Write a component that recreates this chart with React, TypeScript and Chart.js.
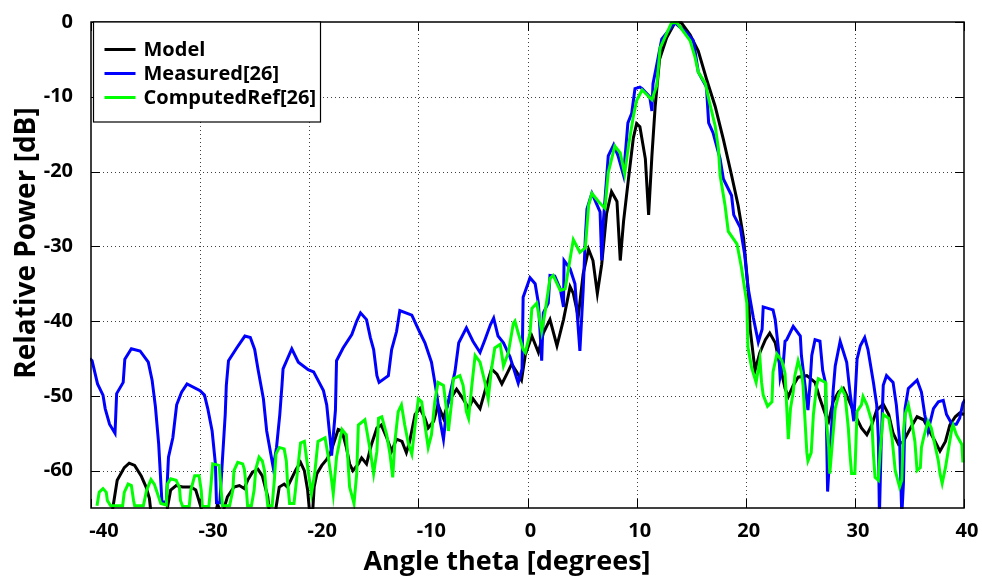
import React, { useEffect, useRef } from "react";
import { Chart, registerables } from "chart.js";

Chart.register(...registerables);

const xTicks = [-40, -30, -20, -10, 0, 10, 20, 30, 40];
const yTicks = [-60, -50, -40, -30, -20, -10, 0];

const seriesNames = ["Model", "Measured[26]", "ComputedRef[26]"];
const seriesColors = ["#000000", "#0000FF", "#00FF00"];

const modelTheta = [
  -38.1, -38.0, -37.6, -36.95, -36.5, -36.0, -35.4, -34.95, -34.65, -34.4,
  -33.1, -33.0, -32.7, -32.2, -31.6, -30.85, -30.4, -29.9, -29.8,
  -28.8, -28.4, -28.0, -27.5, -26.9, -26.4, -25.95, -25.65, -25.2, -24.7, -24.3, -23.8, -23.7, -23.6,
  -23.1, -23.05, -22.75, -22.3, -22.0, -21.7, -21.2, -20.8, -20.45, -20.15, -20.0, -19.95,
  -19.75, -19.55, -19.3, -18.85, -18.4, -18.1, -17.8, -17.35, -17.0, -16.6, -16.3, -16.0,
  -15.5, -15.2, -14.75, -14.3, -13.8, -13.4, -12.9, -12.45, -12.0, -11.5, -11.1, -10.8,
  -10.3, -9.85, -9.4, -9.1, -8.6, -8.2, -7.7, -7.25, -6.5, -5.9, -5.4, -5.0, -4.35,
  -3.75, -3.3, -2.8, -2.35, -1.9, -1.45, -1.0, -0.55, -0.2, 0.4, 1.0, 1.45, 2.06,
  2.7, 3.3, 3.9, 4.2, 4.65, 5.1, 5.6, 6.0, 6.4, 6.8, 7.25, 7.7, 8.2, 8.5, 8.8, 9.25,
  9.7, 10.0, 10.3, 10.8, 11.1, 11.4, 11.7, 12.1, 12.75, 13.5, 14.1, 14.9, 15.65, 16.4,
  17.2, 17.95, 18.7, 19.3, 19.8, 20.2, 20.4, 20.85, 21.3, 21.8, 22.2, 22.7, 23.15,
  23.6, 23.9, 24.35, 24.8, 25.6, 26.35, 26.8, 27.3, 27.6, 28.0, 28.5, 28.95, 29.4,
  30.0, 30.6, 31.1, 31.55, 32.0, 32.6, 33.1, 33.5, 34.0, 34.45, 35.1, 35.7, 36.3,
  36.7, 37.35, 37.8, 38.3, 38.7, 39.2, 39.6, 40.0,
];
const modelDb = [
  -67, -65, -61.3, -59.6, -59.0, -59.3, -60.7, -62.2, -63.7, -67,
  -67, -65, -62.6, -62.0, -62.2, -62.2, -62.6, -65, -67,
  -67, -64.5, -66, -63.5, -62.2, -62.0, -62.4, -61.3, -60.2, -59.8, -60.7, -63.5, -65, -67,
  -67, -65, -62.2, -61.8, -62.2, -61.3, -59.8, -58.9, -60.0, -62.6, -65, -67,
  -67, -62.2, -60.4, -59.3, -58.5, -57.8, -56.5, -54.5, -54.7, -56.9, -59.1, -60.0,
  -59.1, -58.3, -59.1, -56.5, -54.3, -53.9, -55.6, -57.4, -55.8, -56.1, -57.6, -56.1,
  -52.5, -51.7, -53.0, -54.3, -53.4, -51.2, -53.0, -50.8, -49.1, -50.4, -51.7, -50.4, -51.7,
  -48.6, -46.4, -47.1, -48.4, -47.1, -45.75, -46.8, -47.9, -44.5, -42.0, -44.2, -41.6, -39.8,
  -43.3, -39.8, -35.4, -36.3, -39.4, -33.7, -30.4, -31.9, -36.3, -32.4, -25.6, -22.7, -24.0, -31.9, -26.7, -21.0,
  -15.5, -13.6, -14.0, -18.3, -25.8, -17.9, -11.3, -5.0, -2.1, -0.1, -0.1, -1.7, -3.9, -7.6,
  -11.3, -15.7, -20.5, -24.5, -28.9, -35.4, -41.0, -46.6, -44.2, -42.5, -41.6, -42.9, -46.0,
  -49.0, -50.1, -48.6, -47.5, -47.3, -48.2, -50.4, -52.5, -53.4, -50.8, -49.5, -49.0, -50.4,
  -52.5, -54.3, -55.2, -53.9, -51.9, -51.1, -52.5, -55.0, -56.5, -56.1, -54.3, -52.8, -53.2,
  -54.3, -56.1, -57.4, -56.1, -53.9, -52.8, -52.3, -52.5,
];

const measTheta = [
  -40.1, -39.9, -39.4, -38.9, -38.7, -38.3, -37.8, -37.65, -37.05, -36.9, -36.3, -35.5,
  -34.75, -34.4, -34.1, -33.8, -33.5, -33.1, -32.9, -32.5, -32.15, -31.7, -31.2, -30.0,
  -29.6, -29.3, -28.9, -28.6, -28.5, -28.2, -28.0, -27.7, -27.6, -27.4, -26.65, -25.9,
  -25.4, -25.0, -24.7, -24.2, -23.9, -23.3, -23.0, -22.7, -22.5, -22.4, -21.6, -21.0,
  -20.1, -19.6, -18.7, -18.4, -18.1, -17.95, -17.6, -17.5, -16.9, -16.1, -15.65, -15.3,
  -14.75, -14.4, -14.1, -13.8, -13.6, -12.75, -12.45, -12.0, -11.7, -10.6, -10.0, -9.4,
  -8.8, -8.3, -8.0, -7.7, -7.4, -6.65, -6.3, -5.6, -5.0, -4.35, -3.9, -3.4, -3.1, -2.7,
  -2.2, -1.6, -0.85, -0.5, -0.4, 0.23, 0.7, 1.0, 1.3, 1.45, 1.9, 2.06, 2.5, 3.0, 3.3,
  3.35, 3.9, 4.35, 4.8, 5.1, 5.3, 5.45, 5.9, 6.65, 6.8, 6.95, 7.4, 7.9, 8.3, 8.8, 9.2,
  9.55, 9.85, 10.3, 10.5, 11.2, 11.4, 11.5, 11.8, 12.3, 13.5, 14.6, 15.2, 15.65, 16.4,
  16.6, 17.0, 17.65, 17.95, 18.7, 18.9, 19.5, 19.9, 20.2, 20.7, 21.15, 21.5, 21.6, 22.5,
  22.7, 23.0, 23.15, 23.45, 23.6, 23.75, 24.35, 25.0, 25.1, 25.4, 25.7, 25.9, 26.05,
  26.35, 26.8, 27.05, 27.3, 27.4, 27.5, 27.65, 27.9, 28.0, 28.2, 28.65, 29.25, 29.55,
  29.9, 30.2, 30.5, 30.9, 31.2, 31.7, 32.0, 32.15, 32.25, 32.4, 32.6, 32.9, 33.5, 33.8,
  34.1, 34.3, 34.45, 34.6, 34.9, 35.7, 36.1, 36.4, 36.7, 37.2, 37.65, 38.1, 38.4, 38.9,
  39.3, 39.6, 39.9, 40.1,
];
const measDb = [
  -45.0, -45.3, -48.4, -49.9, -51.7, -53.8, -55.0, -49.7, -48.2, -45.1, -43.7, -44.0,
  -45.5, -47.9, -51.4, -56.4, -64.2, -64.2, -58.2, -55.6, -51.2, -49.5, -48.4, -49.3,
  -49.9, -51.7, -54.7, -59.1, -64.3, -64.3, -59.6, -52.5, -48.6, -45.3, -43.6, -42.0,
  -42.2, -43.8, -46.4, -50.4, -54.7, -59.6, -56.9, -52.5, -48.6, -46.4, -43.7, -45.5,
  -46.5, -46.8, -49.3, -51.2, -55.6, -58.0, -51.9, -45.3, -43.6, -41.8, -40.0, -38.9,
  -39.8, -42.2, -43.8, -47.3, -48.2, -47.3, -43.8, -41.4, -38.6, -39.2, -41.1, -42.9,
  -45.5, -49.9, -53.4, -55.8, -51.7, -46.8, -42.9, -40.9, -42.7, -44.2, -42.5, -40.5, -39.6, -42.0,
  -42.9, -44.8, -48.3, -46.4, -36.8, -34.2, -35.0, -37.6, -45.3, -38.9, -37.6, -33.9, -34.0, -35.7, -38.1,
  -31.9, -33.0, -35.0, -44.0, -35.9, -28.9, -25.0, -22.9, -25.4, -31.9, -26.7, -17.9, -16.4, -17.9, -20.5, -13.5,
  -12.2, -8.9, -8.7, -8.9, -10.0, -11.9, -8.25, -6.05, -2.3, -0.1, -1.45, -2.5, -6.7, -8.7,
  -13.5, -14.8, -18.3, -21.0, -23.2, -25.8, -27.5, -31.1, -35.4, -39.6, -42.8, -41.1, -38.1, -38.5,
  -39.8, -43.8, -47.5, -45.5, -42.7, -42.5, -40.7, -42.0, -44.6, -48.2, -51.9, -48.2, -44.6,
  -42.5, -42.7, -46.6, -48.2, -54.3, -62.8, -59.1, -53.4, -49.5, -46.0, -42.7, -45.5, -49.5,
  -53.4, -45.1, -43.3, -42.2, -43.8, -48.2, -51.2, -55.6, -66, -56.9, -48.6, -47.3, -48.2, -51.2,
  -56.1, -66, -61.7, -51.7, -49.0, -47.9, -49.5, -52.5, -54.7, -51.7, -50.8, -50.6, -52.5, -53.8,
  -53.8, -53.0, -51.0, -50.5,
];

const compTheta = [
  -39.45, -39.25, -38.9, -38.6, -38.5, -38.2, -37.1, -36.95, -36.6, -36.3, -36.1, -36.0,
  -35.2, -34.9, -34.5, -34.2, -33.9, -33.6, -33.1, -33.0, -32.7, -32.2, -31.9, -31.8,
  -31.6, -31.0, -30.85, -30.5, -30.1, -29.9, -29.8, -29.2, -29.0, -28.85, -28.25, -28.1,
  -27.95, -27.3, -27.0, -26.9, -26.55, -26.1, -25.95, -25.8, -25.65, -25.3, -25.05, -24.9,
  -24.6, -24.3, -24.1, -23.95, -23.8, -23.4, -23.2, -23.05, -22.75, -22.3, -22.1, -22.0,
  -21.8, -21.4, -21.1, -20.8, -20.45, -20.1, -19.8, -19.5, -19.2, -18.55, -18.25, -17.95,
  -17.8, -17.5, -17.0, -16.6, -16.3, -15.9, -15.65, -15.5, -14.9, -14.4, -14.1, -13.8,
  -13.65, -13.35, -12.9, -12.6, -12.35, -12.15, -11.85, -11.55, -11.25, -10.9, -10.6, -10.3,
  -10.0, -9.7, -9.4, -9.1, -8.8, -8.5, -8.2, -7.7, -7.4, -7.25, -6.95, -6.8, -6.2, -5.9,
  -5.6, -5.4, -5.1, -4.8, -4.35, -3.9, -3.6, -3.3, -3.0, -2.5, -2.2, -1.75, -1.3, -1.15,
  -0.85, -0.4, -0.2, 0.23, 0.4, 0.85, 1.3, 1.6, 2.06, 2.35, 3.0, 3.45, 3.9, 4.2, 4.8, 5.3,
  5.6, 5.9, 6.5, 7.1, 7.4, 8.0, 8.5, 8.9, 9.25, 9.7, 10.0, 10.5, 11.4, 11.85, 12.15, 13.2,
  13.7, 14.9, 15.35, 15.65, 16.3, 16.7, 17.2, 17.5, 17.65, 18.1, 18.4, 19.2, 19.6, 20.1,
  20.2, 20.55, 20.95, 21.3, 21.45, 21.6, 22.0, 22.4, 22.5, 22.85, 23.3, 23.6, 23.9, 24.1,
  24.35, 24.5, 24.8, 25.1, 25.25, 25.4, 25.6, 25.7, 26.0, 26.2, 26.5, 26.65, 27.3, 27.35,
  27.6, 27.7, 27.9, 28.2, 28.5, 28.8, 29.1, 29.4, 29.55, 29.7, 30.0, 30.2, 30.6, 30.75,
  31.1, 31.55, 31.7, 31.85, 32.15, 32.3, 32.6, 33.1, 33.4, 33.7, 34.1, 34.3, 34.45, 34.6,
  34.9, 35.2, 35.5, 35.7, 36.0, 36.1, 36.3, 36.7, 37.0, 37.65, 37.8, 38.0, 38.3, 38.6,
  38.9, 39.0, 39.3, 39.8, 39.9,
];
const compDb = [
  -64.7, -62.9, -62.4, -62.9, -64.0, -64.7, -64.7, -62.9, -61.8, -62.0, -64.0, -64.7,
  -64.7, -62.6, -61.2, -61.8, -63.1, -64.4, -64.6, -61.8, -61.1, -61.3, -62.2, -64.0,
  -64.8, -64.8, -62.6, -60.7, -60.7, -62.6, -64.8, -64.8, -61.8, -59.1, -59.3, -62.2,
  -64.7, -64.7, -62.6, -60.0, -58.9, -59.1, -59.8, -61.8, -64.7, -64.7, -62.6, -59.8,
  -58.2, -58.7, -60.0, -62.6, -64.7, -64.7, -61.3, -57.8, -56.9, -57.1, -58.7, -61.3,
  -64.4, -64.4, -60.4, -56.3, -56.1, -60.0, -63.1, -60.4, -56.1, -55.6, -58.2, -61.3,
  -63.1, -58.2, -54.5, -55.2, -62.2, -64.4, -60.4, -53.9, -53.2, -57.4, -60.4, -57.4,
  -53.0, -52.8, -55.2, -57.8, -60.9, -56.1, -52.1, -51.2, -53.9, -56.5, -57.8, -53.9,
  -50.4, -50.8, -53.9, -56.9, -55.2, -50.8, -48.2, -48.6, -52.1, -54.7, -50.8, -47.7, -47.3, -48.6,
  -52.1, -53.0, -48.6, -44.6, -45.5, -48.2, -50.4, -46.4, -43.6, -43.1, -46.0, -44.2, -40.3, -40.0,
  -41.6, -43.8, -44.2, -41.6, -38.3, -37.6, -41.4, -38.9, -34.3, -33.9, -35.9, -35.7, -31.7, -29.1, -30.8, -30.2,
  -24.5, -22.9, -24.0, -24.9, -20.1, -16.6, -17.5, -20.3, -16.6, -12.6, -10.5, -9.1, -10.4, -8.5, -3.5, -0.1,
  -0.1, -2.5, -4.7, -6.7, -8.25, -10.9, -13.9, -17.0, -20.5, -24.5, -28.0, -29.7, -32.8, -37.6,
  -43.5, -46.3, -48.2, -45.1, -48.2, -49.9, -51.4, -50.8, -46.8, -44.4, -45.3, -47.0, -55.8, -51.7,
  -49.5, -47.3, -45.3, -46.8, -48.6, -52.5, -57.6, -58.7, -57.6, -52.5, -48.6, -47.7, -48.2, -52.5,
  -56.9, -60.4, -56.9, -51.7, -49.9, -49.0, -49.9, -54.3, -57.8, -60.4, -60.4, -52.1, -51.2, -50.1,
  -51.2, -53.4, -57.8, -60.9, -61.3, -57.8, -52.5, -53.0, -55.6, -60.0, -62.2, -61.3, -54.7, -52.5,
  -51.2, -53.4, -56.1, -60.0, -59.6, -56.9, -55.6, -53.4, -54.3, -58.7, -60.4, -61.7, -59.6, -56.9,
  -54.3, -53.9, -55.2, -56.5, -58.9,
];

const FONT = "'Open Sans', Lato, sans-serif";

function zip(xs: number[], ys: number[]) {
  return xs.map((x, i) => ({ x, y: ys[i] }));
}

function fitText(ctx: any, text: string, width: number, maxSize: number) {
  let size = maxSize;
  ctx.font = `bold ${size}px ${FONT}`;
  while (ctx.measureText(text).width > width && size > 8) {
    size -= 0.5;
    ctx.font = `bold ${size}px ${FONT}`;
  }
}

const framePlugin = {
  id: "matlabFrame",
  beforeDatasetsDraw(chart: any) {
    const { ctx, chartArea: a, scales } = chart;
    ctx.save();
    ctx.strokeStyle = "rgba(0,0,0,0.75)";
    ctx.lineWidth = 1;
    ctx.setLineDash([1, 3]);
    xTicks.forEach((v) => {
      const px = Math.round(scales.x.getPixelForValue(v)) + 0.5;
      if (px <= a.left + 1 || px >= a.right - 1) return;
      ctx.beginPath();
      ctx.moveTo(px, a.top);
      ctx.lineTo(px, a.bottom);
      ctx.stroke();
    });
    yTicks.forEach((v) => {
      const py = Math.round(scales.y.getPixelForValue(v)) + 0.5;
      if (py <= a.top + 1 || py >= a.bottom - 1) return;
      ctx.beginPath();
      ctx.moveTo(a.left, py);
      ctx.lineTo(a.right, py);
      ctx.stroke();
    });
    ctx.restore();
  },
  afterDatasetsDraw(chart: any) {
    const { ctx, chartArea: a, scales } = chart;
    ctx.save();
    ctx.setLineDash([]);
    ctx.strokeStyle = "#000";
    ctx.lineWidth = 1;
    const tl = 9;
    xTicks.forEach((v) => {
      const px = Math.round(scales.x.getPixelForValue(v)) + 0.5;
      ctx.beginPath();
      ctx.moveTo(px, a.bottom);
      ctx.lineTo(px, a.bottom - tl);
      ctx.moveTo(px, a.top);
      ctx.lineTo(px, a.top + tl);
      ctx.stroke();
    });
    yTicks.forEach((v) => {
      const py = Math.round(scales.y.getPixelForValue(v)) + 0.5;
      ctx.beginPath();
      ctx.moveTo(a.left, py);
      ctx.lineTo(a.left + tl, py);
      ctx.moveTo(a.right, py);
      ctx.lineTo(a.right - tl, py);
      ctx.stroke();
    });
    ctx.lineWidth = 1.5;
    ctx.strokeRect(a.left, a.top, a.right - a.left, a.bottom - a.top);

    // legend
    const lx = a.left + 2.5;
    const ly = a.top;
    const lw = 227;
    const lh = 100;
    ctx.fillStyle = "#fff";
    ctx.fillRect(lx, ly, lw, lh);
    ctx.lineWidth = 1.2;
    ctx.strokeStyle = "#000";
    ctx.strokeRect(lx, ly, lw, lh);
    fitText(ctx, seriesNames[2], 174, 21);
    ctx.textBaseline = "middle";
    ctx.textAlign = "left";
    seriesNames.forEach((name, i) => {
      const yy = ly + 27.5 + i * 24;
      ctx.strokeStyle = seriesColors[i];
      ctx.lineWidth = 3;
      ctx.beginPath();
      ctx.moveTo(lx + 11, yy);
      ctx.lineTo(lx + 42, yy);
      ctx.stroke();
      ctx.fillStyle = "#000";
      ctx.fillText(name, lx + 50, yy + 1);
    });

    // axis titles
    ctx.fillStyle = "#000";
    ctx.textAlign = "center";
    ctx.textBaseline = "middle";
    fitText(ctx, "Angle theta [degrees]", 290, 28);
    ctx.fillText("Angle theta [degrees]", 507, 562);
    ctx.save();
    ctx.translate(27, 243);
    ctx.rotate(-Math.PI / 2);
    fitText(ctx, "Relative Power [dB]", 300, 28);
    ctx.fillText("Relative Power [dB]", 0, 0);
    ctx.restore();
    ctx.restore();
  },
};

export default function App() {
  const ref = useRef<HTMLCanvasElement | null>(null);
  useEffect(() => {
    document.body.style.margin = "0";
    const canvas = ref.current;
    if (!canvas) return;
    const datasets = [
      zip(modelTheta, modelDb),
      zip(measTheta, measDb),
      zip(compTheta, compDb),
    ].map((data, i) => ({
      label: seriesNames[i],
      data,
      borderColor: seriesColors[i],
      backgroundColor: seriesColors[i],
      borderWidth: 3,
      pointRadius: 0,
      tension: 0,
      fill: false,
      clip: 1,
      order: 3 - i,
    }));
    const chart = new Chart(canvas, {
      type: "line",
      data: { datasets },
      options: {
        responsive: false,
        animation: false,
        parsing: false as any,
        layout: { padding: { left: 0, top: 14, right: 18, bottom: 0 } },
        plugins: { legend: { display: false }, tooltip: { enabled: false } },
        scales: {
          x: {
            type: "linear",
            min: -40,
            max: 40,
            afterFit: (s: any) => {
              s.height = 73;
            },
            afterBuildTicks: (s: any) => {
              s.ticks = xTicks.map((v) => ({ value: v }));
            },
            grid: { display: false },
            border: { display: false },
            ticks: {
              autoSkip: false,
              maxRotation: 0,
              padding: 3,
              labelOffset: 3,
              color: "#000",
              font: { family: FONT, size: 20, weight: "bold" },
              callback: (v: any) => (v < 0 ? "\u2002\u2002" + v : String(v)),
            },
          },
          y: {
            type: "linear",
            min: -65,
            max: 0,
            afterFit: (s: any) => {
              s.width = 91;
            },
            afterBuildTicks: (s: any) => {
              s.ticks = yTicks.map((v) => ({ value: v }));
            },
            grid: { display: false },
            border: { display: false },
            ticks: {
              padding: 10,
              color: "#000",
              font: { family: FONT, size: 20, weight: "bold" },
              callback: (v: any) => String(v),
            },
          },
        },
      },
      plugins: [framePlugin],
    });
    return () => chart.destroy();
  }, []);
  return (
    <div style={{ width: 982, height: 581 }}>
      <canvas ref={ref} width={982} height={581} style={{ display: "block" }} />
    </div>
  );
}
